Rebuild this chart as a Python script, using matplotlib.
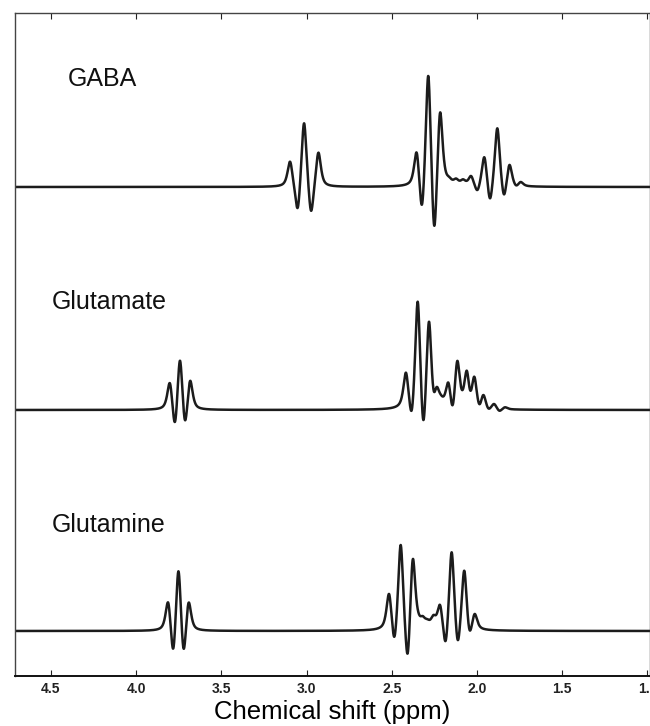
import numpy as np
import matplotlib
matplotlib.use("Agg")
import matplotlib.pyplot as plt

# ---- data (ppm, intensity above baseline, arbitrary units) ----
gaba_ppm = [3.097, 3.052, 3.015, 2.974, 2.931,
            2.354, 2.323, 2.286, 2.251, 2.217, 2.164, 2.123, 2.082, 2.035,
            1.998, 1.957, 1.924, 1.881, 1.842, 1.810, 1.771, 1.744]
gaba_int = [25.3, -20.7, 63.7, -23.7, 34.3,
            34.3, -17.5, 111.0, -38.7, 74.3, 10.3, 8.5, 7.7, 11.0,
            -3.0, 29.7, -11.3, 58.7, -7.3, 22.0, 1.7, 5.0]

glu_ppm = [3.802, 3.772, 3.743, 3.714, 3.684,
           2.417, 2.383, 2.348, 2.315, 2.282, 2.256, 2.237, 2.211, 2.168,
           2.143, 2.116, 2.088, 2.060, 2.041, 2.016, 1.987, 1.963, 1.934,
           1.900, 1.869, 1.836]
glu_int = [26.7, -11.7, 49.3, -10.0, 29.0,
           37.3, 0.0, 108.3, -10.0, 88.3, 21.0, 23.0, 15.0, 27.3,
           5.0, 49.0, 20.0, 39.3, 20.0, 33.3, 6.0, 15.0, 1.7,
           6.0, -0.7, 2.7]

gln_ppm = [3.812, 3.782, 3.752, 3.722, 3.693,
           2.516, 2.485, 2.448, 2.407, 2.377, 2.345, 2.319, 2.292, 2.256,
           2.217, 2.184, 2.149, 2.113, 2.075, 2.045, 2.014]
gln_int = [28.3, -17.3, 59.7, -17.5, 28.0,
           37.0, -5.7, 86.0, -22.3, 71.7, 19.3, 15.0, 12.0, 16.0,
           26.0, -9.7, 78.7, -9.0, 60.3, 1.7, 17.0]

names = ["GABA", "Glutamate", "Glutamine"]
offsets = [444.0, 221.0, 0.0]
xticks = [4.5, 4.0, 3.5, 3.0, 2.5, 2.0, 1.5, 1.0]

# ---- line shape (pseudo-Voigt) ----
HW = 0.0175   # half width at half maximum, ppm
ETA = 0.75    # Lorentzian fraction


def kernel(x, p):
    d = (x - p) / HW
    return ETA / (1.0 + d * d) + (1.0 - ETA) * np.exp(-np.log(2) * d * d)


def spectrum(x, ppm, inten):
    p = np.asarray(ppm)
    v = np.asarray(inten)
    M = kernel(p[:, None], p[None, :])
    a = np.linalg.solve(M, v)
    return (a[None, :] * kernel(x[:, None], p[None, :])).sum(axis=1)


fig = plt.figure(figsize=(6.5, 7.26), dpi=100)
ax = fig.add_axes([15 / 650, 1 - 676 / 726, 634.5 / 650, (676 - 13.3) / 726])

x = np.linspace(4.711, 0.988, 4000)
for (pp, ii), off in zip([(gaba_ppm, gaba_int), (glu_ppm, glu_int), (gln_ppm, gln_int)], offsets):
    ax.plot(x, spectrum(x, pp, ii) + off, color="#1c1c1c", lw=1.8, solid_joinstyle="round")

ax.set_xlim(4.711, 0.988)
ax.set_ylim(-45, 617.7)
ax.set_yticks([])
ax.set_xticks(xticks)
ax.set_xticklabels([f"{t:.1f}" for t in xticks], fontsize=10, fontweight="bold",
                   family="Liberation Sans", color="#222222")
ax.tick_params(axis="x", direction="in", top=True, length=4, width=0.8, pad=4,
               colors="#222222")
for s in ax.spines.values():
    s.set_color("#444444")
    s.set_linewidth(1.0)
ax.spines["bottom"].set_color("#111111")
ax.spines["bottom"].set_linewidth(1.4)

ax.set_xlabel("Chemical shift (ppm)", fontsize=18.5, family="Liberation Sans", labelpad=3)

label_pos = [(0.0835, 0.8903), (0.058, 0.5533), (0.058, 0.2177)]
for name, (tx, ty) in zip(names, label_pos):
    ax.text(tx, ty, name, transform=ax.transAxes, fontsize=18, family="Liberation Sans",
            va="baseline", ha="left", color="#111111")

fig.savefig("out.png", dpi=100)
